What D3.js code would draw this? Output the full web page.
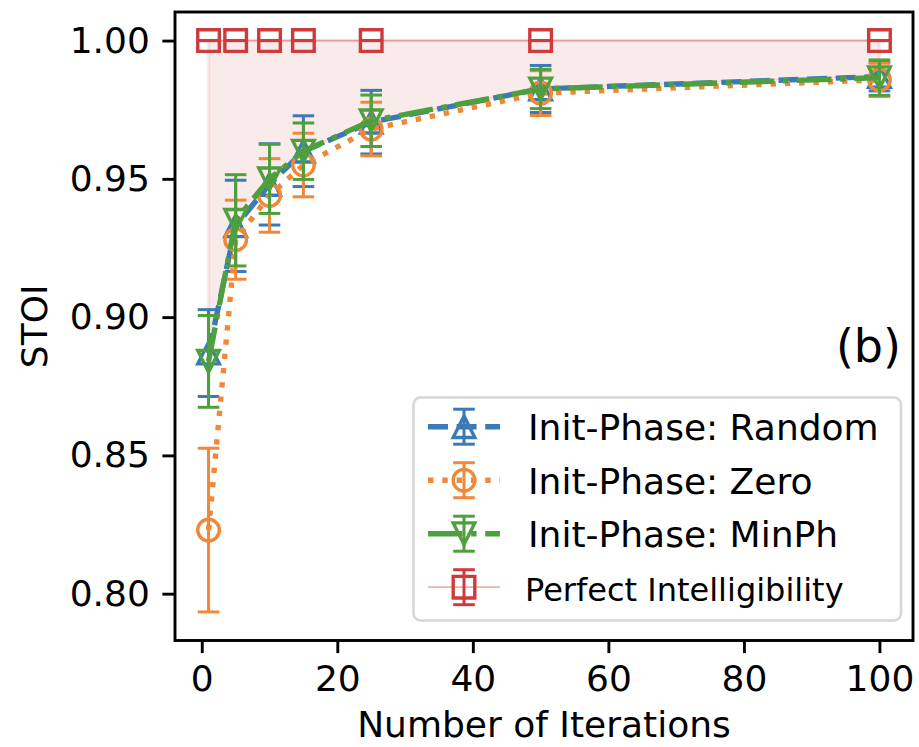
<!DOCTYPE html>
<html>
<head>
<meta charset="utf-8">
<script src="https://cdn.jsdelivr.net/npm/d3@7"></script>
<style>
  body { margin: 0; background: #fff; }
  svg { display: block; }
  text { font-family: "DejaVu Sans", sans-serif; fill: #000; }
</style>
</head>
<body>
<svg id="chart" width="919" height="747"></svg>
<script>
// Iteration counts on the x axis
const iterations = [1, 5, 10, 15, 25, 50, 100];

// Mean STOI and standard deviation for each phase initialisation
const randomMean = [0.887, 0.933, 0.948, 0.960, 0.9705, 0.9825, 0.987];
const randomErr  = [0.0157, 0.0165, 0.0147, 0.0128, 0.0115, 0.0085, 0.0052];

const zeroMean = [0.823, 0.928, 0.944, 0.955, 0.968, 0.981, 0.9858];
const zeroErr  = [0.0296, 0.0143, 0.0133, 0.0115, 0.0097, 0.0081, 0.0060];

const minphMean = [0.884, 0.935, 0.950, 0.960, 0.971, 0.9825, 0.9866];
const minphErr  = [0.0166, 0.0165, 0.0125, 0.0102, 0.0093, 0.0071, 0.0064];

// Reference level: perfect intelligibility
const perfectMean = [1, 1, 1, 1, 1, 1, 1];
const perfectErr  = [0, 0, 0, 0, 0, 0, 0];

const seriesLabels = ["Init-Phase: Random", "Init-Phase: Zero", "Init-Phase: MinPh", "Perfect Intelligibility"];

const xTicks = [0, 20, 40, 60, 80, 100];
const yTicks = [0.80, 0.85, 0.90, 0.95, 1.00];

const PX = 3.6;               // pixels per point
const LW = 1.5 * PX;          // series line width
const MS = 6 * PX;            // marker size
const CAP = 3 * PX;           // half cap width
const ELW = 3;                // error bar line width
const MEW = 3.4;              // marker edge width

const colors = { blue: "#3a7ab6", orange: "#f0883a", green: "#4e9f3d", red: "#cf3b3b" };

const series = [
  { label: seriesLabels[0], mean: randomMean, err: randomErr, color: colors.blue,  marker: "tri-up",   dash: `${3.7*LW},${1.6*LW}`, width: LW },
  { label: seriesLabels[1], mean: zeroMean,   err: zeroErr,   color: colors.orange, marker: "circle",  dash: `${1*LW},${1.65*LW}`, width: LW },
  { label: seriesLabels[2], mean: minphMean,  err: minphErr,  color: colors.green, marker: "tri-down", dash: `${6.4*LW},${1.6*LW},${1*LW},${1.6*LW}`, width: LW },
  { label: seriesLabels[3], mean: perfectMean, err: perfectErr, color: colors.red, marker: "square",  dash: null, width: 1.8, lineOpacity: 0.4 }
];

const svg = d3.select("#chart");
const plot = { left: 175, right: 913, top: 12, bottom: 640.5 };

// Axis ranges with a 5% margin around the data, error bars included
const xExt = d3.extent(iterations);
const xPad = (xExt[1] - xExt[0]) * 0.05;
const yLo = d3.min(series, s => d3.min(s.mean, (m, i) => m - s.err[i]));
const yHi = d3.max(series, s => d3.max(s.mean, (m, i) => m + s.err[i]));
const yPad = (yHi - yLo) * 0.05;

const x = d3.scaleLinear().domain([xExt[0] - xPad, xExt[1] + xPad]).range([plot.left, plot.right]);
const y = d3.scaleLinear().domain([yLo - yPad, yHi + yPad]).range([plot.bottom, plot.top]);

function markerPath(type, s) {
  const h = s / 2;
  if (type === "tri-up") return `M0,${-h}L${-h},${h}L${h},${h}Z`;
  if (type === "tri-down") return `M0,${h}L${-h},${-h}L${h},${-h}Z`;
  if (type === "square") return `M${-h},${-h}H${h}V${h}H${-h}Z`;
  return `M${h},0A${h},${h} 0 1,1 ${-h},0A${h},${h} 0 1,1 ${h},0Z`;
}

const root = svg.append("g");

// Shaded gap between perfect intelligibility and the random-init curve
const gap = d3.area()
  .x((d, i) => x(iterations[i]))
  .y0((d, i) => y(perfectMean[i]))
  .y1((d, i) => y(randomMean[i]));
root.append("path")
  .datum(randomMean)
  .attr("d", gap)
  .attr("fill", colors.red).attr("fill-opacity", 0.1)
  .attr("stroke", colors.red).attr("stroke-opacity", 0.1).attr("stroke-width", 3.6);

const line = d3.line().x(d => x(d[0])).y(d => y(d[1]));

series.forEach(s => {
  const g = root.append("g");
  const pts = iterations.map((it, i) => ({ x: it, m: s.mean[i], e: s.err[i] }));
  // error bars
  g.selectAll(".bar").data(pts).join("line")
    .attr("x1", d => x(d.x)).attr("x2", d => x(d.x))
    .attr("y1", d => y(d.m - d.e)).attr("y2", d => y(d.m + d.e))
    .attr("stroke", s.color).attr("stroke-width", ELW);
  [-1, 1].forEach(sign => {
    g.selectAll(null).data(pts).join("line")
      .attr("x1", d => x(d.x) - CAP).attr("x2", d => x(d.x) + CAP)
      .attr("y1", d => y(d.m + sign * d.e)).attr("y2", d => y(d.m + sign * d.e))
      .attr("stroke", s.color).attr("stroke-width", ELW);
  });
  // connecting line
  g.append("path")
    .datum(pts.map(p => [p.x, p.m]))
    .attr("d", line)
    .attr("fill", "none")
    .attr("stroke", s.color)
    .attr("stroke-opacity", s.lineOpacity || 1)
    .attr("stroke-width", s.width)
    .attr("stroke-linecap", "butt")
    .attr("stroke-linejoin", "round")
    .attr("stroke-dasharray", s.dash);
  // markers
  g.selectAll(".mk").data(pts).join("path")
    .attr("transform", d => `translate(${x(d.x)},${y(d.m)})`)
    .attr("d", markerPath(s.marker, MS))
    .attr("fill", "none")
    .attr("stroke", s.color)
    .attr("stroke-width", MEW)
    .attr("stroke-linejoin", "miter");
});

// Axes
const xAxis = d3.axisBottom(x).tickValues(xTicks).tickFormat(d3.format("d"))
  .tickSize(3.5 * PX).tickPadding(3.5 * PX);
const yAxis = d3.axisLeft(y).tickValues(yTicks).tickFormat(d3.format(".2f"))
  .tickSize(3.5 * PX).tickPadding(3.5 * PX);

const gx = svg.append("g").attr("transform", `translate(0,${plot.bottom})`).call(xAxis);
const gy = svg.append("g").attr("transform", `translate(${plot.left},0)`).call(yAxis);
[gx, gy].forEach(g => {
  g.select(".domain").remove();
  g.selectAll(".tick line").attr("stroke", "#000").attr("stroke-width", 2.9);
  g.selectAll(".tick text").attr("font-size", 36).attr("font-family", "DejaVu Sans").attr("fill", "#000");
});

// Frame
svg.append("rect")
  .attr("x", plot.left).attr("y", plot.top)
  .attr("width", plot.right - plot.left).attr("height", plot.bottom - plot.top)
  .attr("fill", "none").attr("stroke", "#000").attr("stroke-width", 2.9);

// Axis titles
svg.append("text")
  .attr("x", (plot.left + plot.right) / 2).attr("y", 737)
  .attr("text-anchor", "middle").attr("font-size", 36)
  .text("Number of Iterations");
svg.append("text")
  .attr("transform", `translate(47,${(plot.top + plot.bottom) / 2}) rotate(-90)`)
  .attr("text-anchor", "middle").attr("font-size", 36)
  .text("STOI");

// Panel tag
svg.append("text")
  .attr("x", 901).attr("y", 362)
  .attr("text-anchor", "end").attr("font-size", 46)
  .text("(b)");

// Legend
const leg = svg.append("g");
leg.append("rect")
  .attr("x", 413.5).attr("y", 397.5).attr("width", 487.5).attr("height", 223)
  .attr("rx", 7).attr("ry", 7)
  .attr("fill", "#fff").attr("fill-opacity", 0.8)
  .attr("stroke", "#d6d6d6").attr("stroke-width", 2.5);

const hx0 = 428, hx1 = 500, hxm = (hx0 + hx1) / 2;
series.forEach((s, i) => {
  const cy = 426.7 + i * 53.5;
  const g = leg.append("g");
  g.append("line").attr("x1", hxm).attr("x2", hxm).attr("y1", cy - 17.5).attr("y2", cy + 17.5)
    .attr("stroke", s.color).attr("stroke-width", ELW);
  [-17.5, 17.5].forEach(o => g.append("line")
    .attr("x1", hxm - CAP).attr("x2", hxm + CAP).attr("y1", cy + o).attr("y2", cy + o)
    .attr("stroke", s.color).attr("stroke-width", ELW));
  g.append("line").attr("x1", hx0).attr("x2", hx1).attr("y1", cy).attr("y2", cy)
    .attr("stroke", s.color).attr("stroke-opacity", s.lineOpacity || 1)
    .attr("stroke-width", s.width).attr("stroke-dasharray", s.dash);
  g.append("path").attr("transform", `translate(${hxm},${cy})`)
    .attr("d", markerPath(s.marker, MS))
    .attr("fill", "none").attr("stroke", s.color).attr("stroke-width", MEW);
  g.append("text")
    .attr("x", i === 3 ? 525 : 528).attr("y", cy + 13.3)
    .attr("font-size", i === 3 ? 32 : 36)
    .text(s.label);
});
</script>
</body>
</html>
